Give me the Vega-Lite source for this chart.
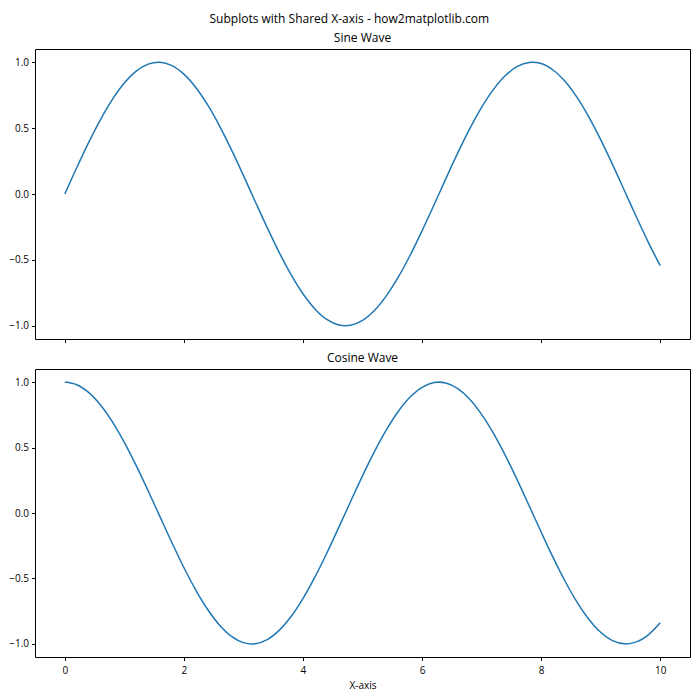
{
  "$schema": "https://vega.github.io/schema/vega-lite/v6.json",
  "background": "white",
  "padding": {"left": 8, "top": 12, "right": 10, "bottom": 10},
  "title": {"text": "Subplots with Shared X-axis - how2matplotlib.com", "fontSize": 12, "fontWeight": "normal", "font": "Open Sans", "color": "black", "anchor": "middle", "offset": 6},
  "config": {
    "view": {"stroke": "black", "strokeWidth": 1},
    "axis": {"grid": false, "domain": false, "tickColor": "black", "tickSize": 3.5, "labelColor": "black", "labelFont": "Open Sans", "labelFontSize": 10, "labelPadding": 3, "titleFont": "Open Sans", "titleFontSize": 10, "titleFontWeight": "normal", "titleColor": "black"},
    "title": {"font": "Open Sans", "fontSize": 12, "fontWeight": "normal", "color": "black"},
    "concat": {"spacing": 7}
  },
  "data": {"values": [
    {"x": 0.0, "s": 0.0, "c": 1.0},
    {"x": 0.2, "s": 0.1987, "c": 0.9801},
    {"x": 0.4, "s": 0.3894, "c": 0.9211},
    {"x": 0.6, "s": 0.5646, "c": 0.8253},
    {"x": 0.8, "s": 0.7174, "c": 0.6967},
    {"x": 1.0, "s": 0.8415, "c": 0.5403},
    {"x": 1.2, "s": 0.932, "c": 0.3624},
    {"x": 1.4, "s": 0.9854, "c": 0.17},
    {"x": 1.6, "s": 0.9996, "c": -0.0292},
    {"x": 1.8, "s": 0.9738, "c": -0.2272},
    {"x": 2.0, "s": 0.9093, "c": -0.4161},
    {"x": 2.2, "s": 0.8085, "c": -0.5885},
    {"x": 2.4, "s": 0.6755, "c": -0.7374},
    {"x": 2.6, "s": 0.5155, "c": -0.8569},
    {"x": 2.8, "s": 0.335, "c": -0.9422},
    {"x": 3.0, "s": 0.1411, "c": -0.99},
    {"x": 3.2, "s": -0.0584, "c": -0.9983},
    {"x": 3.4, "s": -0.2555, "c": -0.9668},
    {"x": 3.6, "s": -0.4425, "c": -0.8968},
    {"x": 3.8, "s": -0.6119, "c": -0.791},
    {"x": 4.0, "s": -0.7568, "c": -0.6536},
    {"x": 4.2, "s": -0.8716, "c": -0.4903},
    {"x": 4.4, "s": -0.9516, "c": -0.3073},
    {"x": 4.6, "s": -0.9937, "c": -0.1122},
    {"x": 4.8, "s": -0.9962, "c": 0.0875},
    {"x": 5.0, "s": -0.9589, "c": 0.2837},
    {"x": 5.2, "s": -0.8835, "c": 0.4685},
    {"x": 5.4, "s": -0.7728, "c": 0.6347},
    {"x": 5.6, "s": -0.6313, "c": 0.7756},
    {"x": 5.8, "s": -0.4646, "c": 0.8855},
    {"x": 6.0, "s": -0.2794, "c": 0.9602},
    {"x": 6.2, "s": -0.0831, "c": 0.9965},
    {"x": 6.4, "s": 0.1165, "c": 0.9932},
    {"x": 6.6, "s": 0.3115, "c": 0.9502},
    {"x": 6.8, "s": 0.4941, "c": 0.8694},
    {"x": 7.0, "s": 0.657, "c": 0.7539},
    {"x": 7.2, "s": 0.7937, "c": 0.6084},
    {"x": 7.4, "s": 0.8987, "c": 0.4385},
    {"x": 7.6, "s": 0.9679, "c": 0.2513},
    {"x": 7.8, "s": 0.9985, "c": 0.054},
    {"x": 8.0, "s": 0.9894, "c": -0.1455},
    {"x": 8.2, "s": 0.9407, "c": -0.3392},
    {"x": 8.4, "s": 0.8546, "c": -0.5193},
    {"x": 8.6, "s": 0.7344, "c": -0.6787},
    {"x": 8.8, "s": 0.5849, "c": -0.8111},
    {"x": 9.0, "s": 0.4121, "c": -0.9111},
    {"x": 9.2, "s": 0.2229, "c": -0.9748},
    {"x": 9.4, "s": 0.0248, "c": -0.9997},
    {"x": 9.6, "s": -0.1743, "c": -0.9847},
    {"x": 9.8, "s": -0.3665, "c": -0.9304},
    {"x": 10.0, "s": -0.544, "c": -0.8391}
  ]},
  "vconcat": [
    {
      "width": 655,
      "height": 290,
      "title": {"text": "Sine Wave", "offset": 4},
      "mark": {"type": "line", "color": "#1f77b4", "strokeWidth": 1.5, "interpolate": "catmull-rom", "clip": true},
      "encoding": {
        "x": {"field": "x", "type": "quantitative", "scale": {"domain": [-0.5, 10.5], "nice": false, "zero": false}, "axis": {"values": [0, 2, 4, 6, 8, 10], "labels": false, "title": null}},
        "y": {"field": "s", "type": "quantitative", "scale": {"domain": [-1.1, 1.1], "nice": false}, "axis": {"values": [-1, -0.5, 0, 0.5, 1], "format": ".1f", "title": null}}
      }
    },
    {
      "width": 655,
      "height": 288,
      "title": {"text": "Cosine Wave", "offset": 4},
      "mark": {"type": "line", "color": "#1f77b4", "strokeWidth": 1.5, "interpolate": "catmull-rom", "clip": true},
      "encoding": {
        "x": {"field": "x", "type": "quantitative", "scale": {"domain": [-0.5, 10.5], "nice": false, "zero": false}, "axis": {"values": [0, 2, 4, 6, 8, 10], "format": "d", "title": "X-axis", "labelPadding": 5, "titlePadding": 5}},
        "y": {"field": "c", "type": "quantitative", "scale": {"domain": [-1.1, 1.1], "nice": false}, "axis": {"values": [-1, -0.5, 0, 0.5, 1], "format": ".1f", "title": null}}
      }
    }
  ]
}
